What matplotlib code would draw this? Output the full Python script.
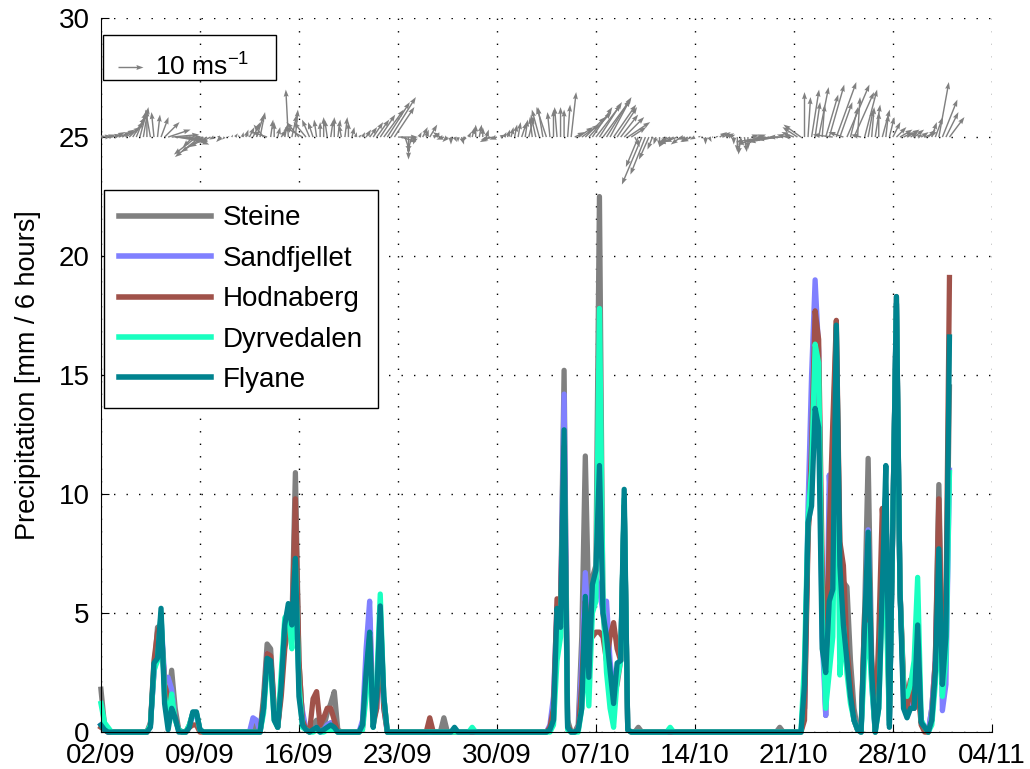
import numpy as np
import matplotlib
matplotlib.use("Agg")
import matplotlib.pyplot as plt
from matplotlib.patches import Rectangle

plt.rcParams['font.family'] = ['Liberation Sans', 'DejaVu Sans']
plt.rcParams['mathtext.default'] = 'regular'

# 6-hourly steps from 02/09 00:00, 241 values
n_steps = 241

tick_days = [0, 7, 14, 21, 28, 35, 42, 49, 56, 63]
tick_labels = ['02/09', '09/09', '16/09', '23/09', '30/09',
               '07/10', '14/10', '21/10', '28/10', '04/11']

names = ['Steine', 'Sandfjellet', 'Hodnaberg', 'Dyrvedalen', 'Flyane']
colors = ['#808080', '#8080ff', '#a0524a', '#19ffc0', '#00838f']

# steps with any precipitation (all other steps are 0)
rain_idx = [0, 1, 2,
            14, 15, 16, 17, 18, 19, 20, 21, 22,
            25, 26, 27, 28,
            43, 44, 46, 47, 48, 49, 50, 51, 52, 53, 54, 55, 56, 57, 58,
            60, 61, 62, 63, 64, 65, 66, 67,
            74, 75, 76, 77, 78, 79, 80,
            93, 97, 100, 105,
            127, 128, 129, 130, 131, 132,
            135, 136, 137, 138, 139, 140, 141, 142, 143, 144, 145, 146, 147, 148, 149,
            152, 161, 192,
            199, 200, 201, 202, 203, 204, 205, 206, 207, 208, 209, 210, 211, 212, 213, 214,
            216, 217, 218,
            220, 221, 222, 223, 224, 225, 226, 227, 228, 229, 230, 231, 232, 233,
            235, 236, 237, 238, 239, 240]

steine = [1.8, 0.3, 0.0,
          0.4, 2.5, 4.4, 4.5, 2.0, 1.0, 2.6, 1.0, 0.1,
          0.3, 0.8, 0.8, 0.1,
          0.3, 0.1, 1.5, 3.7, 3.5, 1.0, 0.2, 2.0, 4.0, 5.0, 4.5, 10.9, 3.0, 0.5, 0.1,
          0.3, 0.5, 0.1, 0.2, 0.8, 1.2, 1.7, 0.1,
          0.3, 2.5, 4.8, 0.5, 1.5, 5.0, 1.5,
          0.0, 0.6, 0.0, 0.0,
          0.1, 0.5, 5.0, 5.0, 15.2, 0.5,
          0.3, 4.0, 11.6, 5.0, 6.5, 7.0, 22.5, 5.0, 3.5, 2.0, 1.5, 2.0, 3.0, 9.5, 0.1,
          0.2, 0.0, 0.2,
          1.0, 8.5, 10.0, 17.5, 14.0, 6.0, 0.7, 6.0, 12.0, 17.0, 7.5, 6.3, 6.1, 3.0, 1.0, 0.1,
          5.0, 11.5, 3.0,
          2.0, 8.0, 10.0, 0.3, 9.0, 18.3, 6.0, 2.2, 1.2, 2.2, 1.0, 3.0, 0.4, 0.2,
          1.0, 3.0, 10.4, 3.0, 4.0, 14.5]

sandfjellet = [0.3, 0.1, 0.0,
               0.3, 2.5, 3.5, 4.8, 2.3, 2.3, 1.8, 0.6, 0.1,
               0.2, 0.8, 0.7, 0.1,
               0.6, 0.5, 1.0, 3.3, 3.0, 1.0, 0.2, 2.0, 4.5, 5.2, 4.5, 8.0, 2.0, 0.9, 0.1,
               0.1, 0.2, 0.0, 0.1, 0.3, 0.4, 0.3, 0.0,
               0.5, 3.5, 5.5, 0.5, 1.0, 4.0, 1.0,
               0.0, 0.0, 0.0, 0.0,
               0.3, 1.5, 5.3, 5.0, 14.2, 0.2,
               0.1, 3.0, 6.7, 4.0, 6.0, 6.5, 6.0, 5.0, 5.5, 3.0, 1.7, 2.5, 3.0, 9.5, 0.1,
               0.0, 0.0, 0.0,
               1.0, 9.5, 15.0, 19.0, 16.0, 4.0, 0.7, 10.8, 8.0, 16.0, 6.0, 5.0, 3.0, 1.5, 0.5, 0.1,
               4.0, 8.5, 2.0,
               2.0, 7.0, 10.0, 0.3, 9.0, 18.0, 6.0, 1.5, 0.8, 1.5, 1.0, 3.0, 0.5, 0.2,
               1.0, 3.0, 8.5, 0.9, 2.0, 11.0]

hodnaberg = [0.2, 0.1, 0.0,
             0.3, 3.0, 4.2, 4.6, 2.0, 1.4, 1.5, 0.6, 0.1,
             0.2, 0.3, 0.3, 0.0,
             0.0, 0.0, 1.2, 3.3, 3.2, 1.0, 0.2, 1.5, 3.5, 4.5, 4.0, 9.8, 3.0, 0.5, 0.1,
             1.4, 1.7, 0.3, 0.6, 1.0, 1.0, 0.5, 0.0,
             0.2, 2.0, 4.0, 0.3, 1.0, 4.3, 1.0,
             0.6, 0.0, 0.0, 0.0,
             0.2, 1.0, 5.6, 5.4, 12.0, 0.3,
             0.1, 2.0, 5.5, 4.0, 4.0, 4.2, 4.2, 4.0, 3.0, 4.0, 4.6, 3.5, 3.0, 9.5, 0.1,
             0.0, 0.0, 0.0,
             0.5, 8.0, 12.0, 17.7, 16.5, 7.0, 1.5, 8.4, 13.0, 17.3, 8.0, 7.0, 3.5, 2.0, 0.5, 0.1,
             5.0, 6.0, 3.0,
             4.0, 9.4, 7.0, 0.5, 9.0, 18.0, 6.0, 2.0, 1.0, 2.2, 1.0, 2.0, 0.3, 0.0,
             0.5, 3.0, 9.8, 2.0, 5.0, 19.1]

dyrvedalen = [1.2, 0.4, 0.2,
              0.3, 2.6, 3.0, 5.0, 1.5, 0.5, 1.6, 0.5, 0.1,
              0.3, 0.8, 0.8, 0.1,
              0.0, 0.0, 0.8, 2.8, 2.7, 0.5, 0.2, 2.5, 4.8, 5.0, 3.5, 7.0, 2.0, 0.2, 0.1,
              0.0, 0.1, 0.0, 0.0, 0.1, 0.1, 0.1, 0.0,
              0.1, 1.5, 3.5, 0.2, 2.0, 5.8, 1.5,
              0.0, 0.0, 0.0, 0.2,
              0.0, 0.3, 3.0, 4.0, 11.5, 0.1,
              0.0, 1.0, 3.5, 1.1, 5.0, 5.5, 17.8, 5.5, 2.5, 1.0, 0.2, 2.2, 3.0, 9.8, 0.1,
              0.0, 0.2, 0.0,
              3.0, 9.0, 11.0, 16.3, 15.5, 5.0, 1.0, 2.5, 4.0, 15.0, 2.4, 4.5, 2.5, 1.2, 0.5, 0.1,
              3.0, 4.5, 2.0,
              1.0, 5.5, 6.0, 0.3, 9.0, 18.0, 6.0, 1.8, 1.5, 2.0, 3.0, 6.5, 0.5, 0.2,
              0.3, 2.0, 5.0, 1.5, 3.0, 10.9]

flyane = [0.3, 0.1, 0.0,
          0.2, 2.9, 3.1, 5.2, 1.2, 0.1, 1.0, 0.6, 0.0,
          0.2, 0.85, 0.85, 0.1,
          0.0, 0.0, 1.0, 3.1, 3.0, 0.5, 0.2, 2.0, 4.5, 5.4, 4.5, 7.3, 1.5, 0.3, 0.1,
          0.1, 0.2, 0.0, 0.1, 0.2, 0.3, 0.2, 0.0,
          0.3, 2.5, 4.2, 0.2, 1.5, 5.3, 1.5,
          0.0, 0.0, 0.2, 0.0,
          0.1, 0.5, 5.2, 4.4, 12.7, 0.2,
          0.1, 1.0, 5.7, 2.3, 6.2, 6.8, 11.2, 5.0, 4.0, 2.6, 1.2, 2.9, 3.0, 10.2, 0.1,
          0.0, 0.0, 0.0,
          2.0, 8.8, 9.5, 13.6, 12.8, 3.5, 2.5, 5.5, 6.0, 17.1, 7.0, 4.5, 3.0, 1.5, 0.5, 0.1,
          4.5, 8.4, 2.5,
          1.0, 6.0, 11.2, 0.2, 9.0, 18.3, 6.0, 1.0, 0.6, 1.0, 1.0, 4.5, 0.4, 0.2,
          0.5, 2.5, 7.7, 2.0, 4.0, 16.6]

# wind components (m/s), one arrow per 6-hour step
wind_u = [2, 3, 3, 4, 4, 5, 5, 6, 6, 5,
          4, 3, 2, 0, -2, -1, 1, 3, 6, 9,
          11, 12, 10, 8, 9, 8, -4, -9, -10, -9,
          -7, -4, -2, 1, -2, -1, 0.5, 0.5, 1, 0,
          0.5, 1, 2, 3, 3, 2, -4, -6, 1, 0,
          1, 2, 1, -1, 2, 1, -5, -7, -5, -3,
          -2, -1, 0, 0, -1, 1, 0, 1, -1, 1,
          0, 1, 0.5, 1, 1, 2, 3, 4, 5, 6,
          8, 9, 10, 8, 8, 6, 2, 0, -2, -1,
          1, 2, 1, 3, 2, 1, -3, -3, -2, 0,
          1, 0, 1, -1, 1, 1, 0, 1, 0, 1,
          -4, -5, -3, 2, 1, 1, 1, 1, 1, 2,
          1, 2, -1, -2, -3, -2, -4, -1, 0, -1,
          0, 0, 1, 2, 4, 6, 7, 8, 9, 8,
          10, 9, 11, 10, 8, 9, 8, 7, 8, 9,
          6, 2, -5, -8, -6, -4, -2, -1, 0, 1,
          -3, -4, -6, -5, -4, -3, -3, -4, -2, 1,
          0.5, 0, 1, 0, 1, 3, 3, 3, 2, 0,
          0, -1, 1, 0, 3, 4, 3, -10, -12, -10,
          -8, -11, -9, -6, -4, -3, -5, -6, -7, 0,
          1, 3, 2, 4, 1, 5, 6, -8, 8, 5,
          -6, 9, 3, 8, 1, -4, 5, 2, 1, 2,
          0, 3, 1, 2, 3, 4, 5, 4, 5, 3,
          4, 2, 3, 5, 3, 2, 3, 4, 6, 5,
          6]

wind_v = [0.5, 0.5, 1, 1, 2, 2, 3, 4, 6, 8,
          10, 11, 12, 11, 11, 10, 9, 8, 6, 3,
          1, -1, -2, 0, -2, -3, -4, -7, -8, -6,
          -4, -2, -1, 0.5, -2, -1, 0.5, 1, 1.5, 1,
          2, 3, 4, 6, 9, 10, 5, 2, 7, 6,
          4, 3, 5, 19, 9, 11, 6, 4, 6, 7,
          6, 7, 6, 8, 7, 7, 8, 7, 5, 8,
          6, 4, 2, 1, 2, 3, 4, 6, 7, 9,
          11, 14, 16, 12, 0, -2, -6, -9, -6, -3,
          2, 4, 3, 5, 1, 2, 2, -1, -2, -3,
          -2, -2, -3, -2, 2, 4, 5, 5, 4, 3,
          -2, -1, -1, 1, 2, 3, 4, 5, 6, 6,
          7, 8, 8, 9, 11, 12, 12, 10, 11, 12,
          12, 11, 13, 18, 2, 4, 5, 8, 10, 12,
          13, 14, 15, 16, 15, 13, 12, 9, 8, 6,
          4, -4, -12, -19, -15, -9, -5, -3, -4, -3,
          -4, -2, -3, -2, -3, -1, -2, -2, -1, 0.5,
          0, -3, -2, 0.5, 0.5, 2, 2, 1.5, 1, -3,
          -6, -7, -6, -5, 1, 0, 1, -3, -2, -2,
          -1, -2, -1, 0, 1, 0.5, 2, 4, 5, 18,
          16, 19, 14, 20, 13, 17, 21, 1, 22, 14,
          2, 21, 12, 18, 16, 1, 19, 11, 12, 13,
          10, 11, 9, 8, 6, 4, 3, 2, 3, 2,
          3, 1, 2, 2, 3, 6, 8, 22, 15, 10,
          8]

t = np.arange(n_steps) / 4.0
series = [steine, sandfjellet, hodnaberg, dyrvedalen, flyane]

fig = plt.figure(figsize=(10.3, 7.69), dpi=100)
ax = fig.add_axes([0.098, 0.048, 0.865, 0.9285])

for name, vals, col in zip(names, series, colors):
    y = np.zeros(n_steps)
    y[rain_idx] = vals
    ax.plot(t, y, color=col, lw=3.8, label=name, solid_joinstyle='round',
            clip_on=False)

Q = ax.quiver(t, np.full(n_steps, 25.0), wind_u, wind_v, color='#808080',
              angles='uv', scale_units='dots', scale=0.4, width=0.0016,
              headwidth=3.5, headlength=5, headaxislength=4.5, zorder=3)
ax.quiverkey(Q, 0.139, 0.913, 10, r'10 ms$^{-1}$', labelpos='E',
             coordinates='figure', color='#808080', labelsep=0.12,
             fontproperties={'size': 19})
fig.patches.append(Rectangle((0.1, 0.896), 0.168, 0.0585, transform=fig.transFigure,
                             fill=False, edgecolor='black', lw=1, zorder=5))

ax.set_xlim(0, 63)
ax.set_ylim(0, 30)
ax.set_xticks(tick_days)
ax.set_xticklabels(tick_labels)
ax.set_yticks([0, 5, 10, 15, 20, 25, 30])
ax.tick_params(direction='in', length=6, labelsize=20)
ax.tick_params(axis='x', pad=8)
ax.tick_params(axis='y', pad=8)
ax.grid(True, color='black', linestyle=(0, (1, 8)), linewidth=1.0)
ax.spines['top'].set_visible(False)
ax.spines['right'].set_visible(False)
ax.set_ylabel('Precipitation [mm / 6 hours]', fontsize=19.5, labelpad=13)

leg = ax.legend(loc='upper left', bbox_to_anchor=(0.003, 0.759), fontsize=20,
                handlelength=3.3, labelspacing=0.52, fancybox=False,
                edgecolor='black', framealpha=1, borderpad=0.55,
                handletextpad=0.45, borderaxespad=0)
leg.get_frame().set_linewidth(1)
for h in leg.get_lines():
    h.set_linewidth(4)

fig.savefig('out.png', dpi=100)
